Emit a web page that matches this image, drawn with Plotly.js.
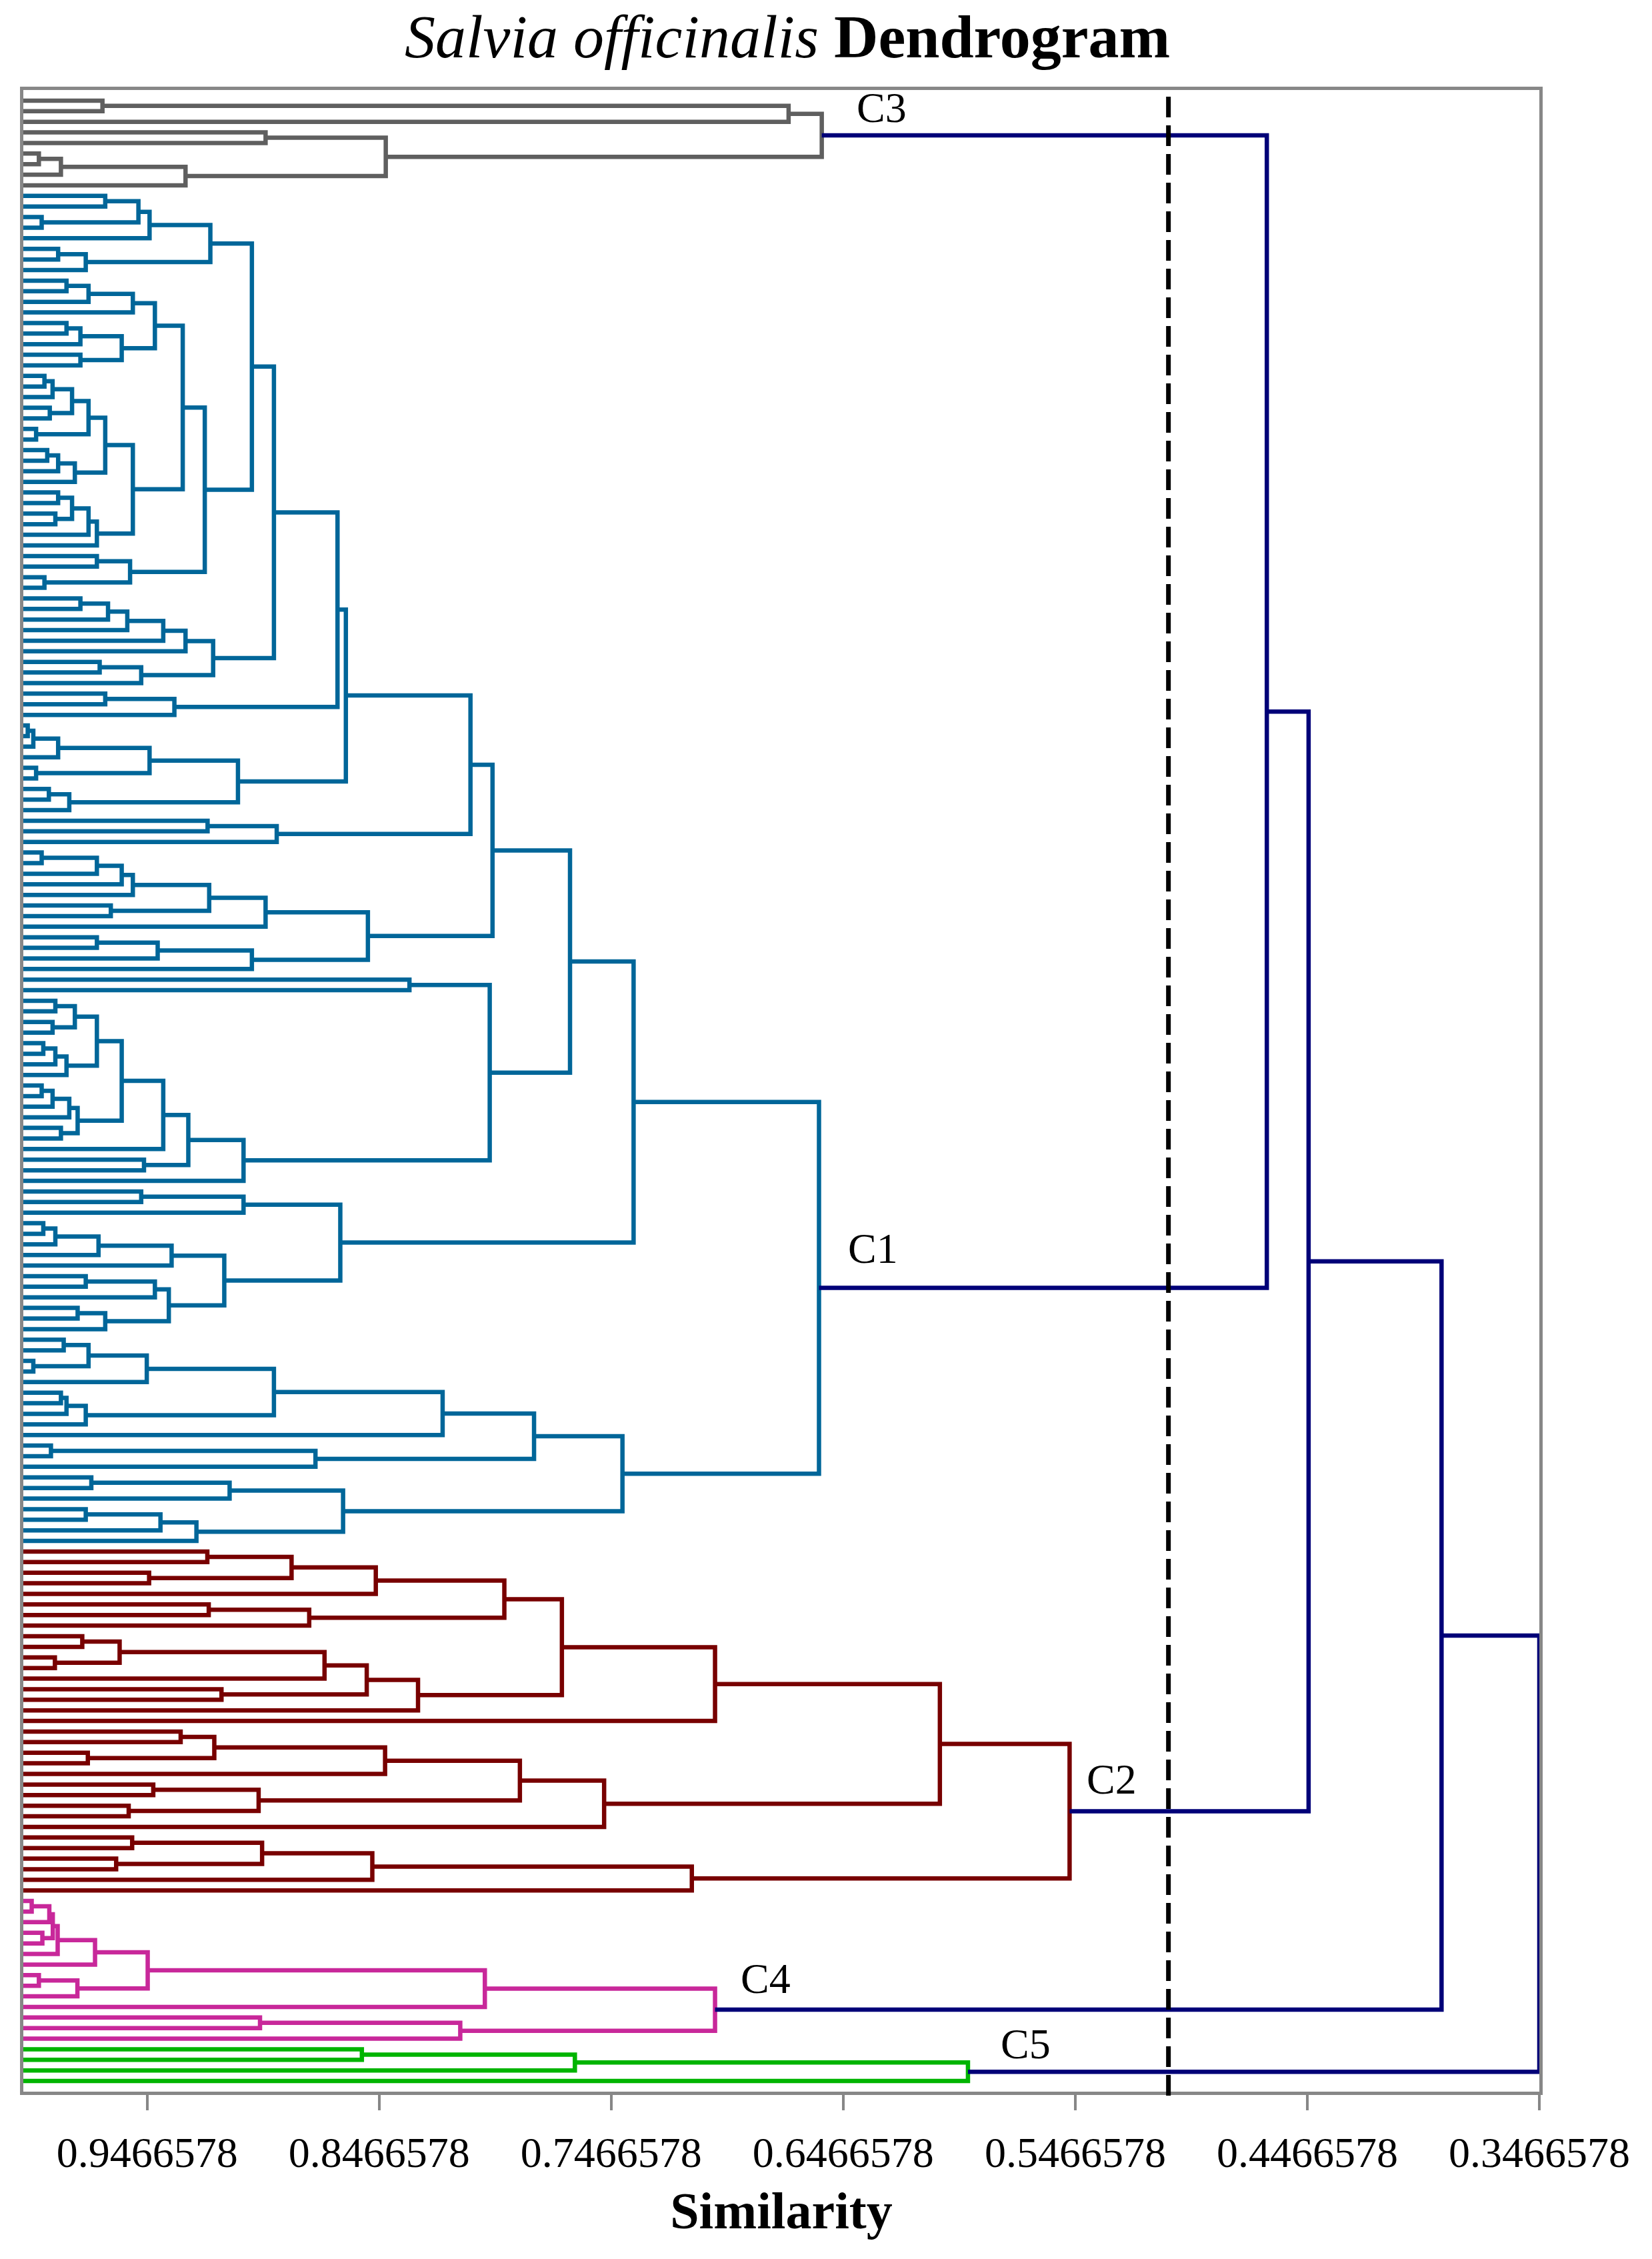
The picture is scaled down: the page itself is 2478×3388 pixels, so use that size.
<!DOCTYPE html>
<html>
<head>
<meta charset="utf-8">
<script src="https://cdn.plot.ly/plotly-3.0.1.min.js"></script>
<style>html,body{margin:0;padding:0;background:#fff;}#chart{width:2478px;height:3388px;}</style>
</head>
<body>
<div id="chart"></div>
<script>
// ---------------- DATA ----------------
// Leaves are numbered 1..188 in plotted order (top to bottom).
const leafCount = 188;
const leafSimilarity = 1.0;           // every leaf starts at similarity 1
const cutSimilarity = 0.5065;         // dashed cut line

const tickValues = [0.9466578, 0.8466578, 0.7466578, 0.6466578, 0.5466578, 0.4466578, 0.3466578];
const tickLabels = ["0.9466578", "0.8466578", "0.7466578", "0.6466578", "0.5466578", "0.4466578", "0.3466578"];

// merges: [childA, childB, similarity]; number = leaf, "mK" = K-th merge of the same cluster
const c3Merges = [
  [1,2,0.9659],["m1",3,0.6702],[4,5,0.8956],[6,7,0.9933],["m4",8,0.9838],["m5",9,0.9301],
  ["m3","m6",0.8438],["m2","m7",0.6559]
];

const c1Merges = [
  [10,11,0.9647],[12,13,0.9921],["m1","m2",0.9504],["m3",14,0.9456],[15,16,0.9850],
  ["m5",17,0.9731],["m4","m6",0.9194],[18,19,0.9814],["m8",20,0.9719],["m9",21,0.9528],
  [22,23,0.9814],["m11",24,0.9754],[25,26,0.9754],["m12","m13",0.9576],["m10","m14",0.9433],
  [27,28,0.9909],["m16",29,0.9874],[30,31,0.9886],["m17","m18",0.9790],[32,33,0.9945],
  ["m19","m20",0.9719],[34,35,0.9897],["m22",36,0.9850],["m23",37,0.9778],["m21","m24",0.9647],
  [38,39,0.9850],[40,41,0.9862],["m26","m27",0.9790],["m28",42,0.9719],["m29",43,0.9683],
  ["m25","m30",0.9528],["m15","m31",0.9313],[44,45,0.9683],[46,47,0.9909],["m33","m34",0.9540],
  ["m32","m35",0.9218],["m7","m36",0.9015],[48,49,0.9754],["m38",50,0.9635],["m39",51,0.9552],
  ["m40",52,0.9397],["m41",53,0.9301],[54,55,0.9671],["m43",56,0.9492],["m42","m44",0.9182],
  ["m37","m45",0.8920],[57,58,0.9647],["m47",59,0.9349],["m46","m48",0.8646],[60,61,0.9981],
  ["m50",62,0.9957],["m51",63,0.9850],[64,65,0.9945],["m52","m53",0.9456],[66,67,0.9890],
  ["m55",68,0.9802],["m54","m56",0.9075],["m49","m57",0.8610],[69,70,0.9206],["m59",71,0.8908],
  ["m58","m60",0.8073],[72,73,0.9921],["m62",74,0.9683],["m63",75,0.9576],["m64",76,0.9528],
  [77,78,0.9623],["m65","m66",0.9199],["m67",79,0.8956],[80,81,0.9683],["m69",82,0.9421],
  ["m70",83,0.9015],["m68","m71",0.8515],["m61","m72",0.7978],[84,85,0.8336],[86,87,0.9862],
  [88,89,0.9874],["m75","m76",0.9778],[90,91,0.9914],["m78",92,0.9862],["m79",93,0.9814],
  ["m77","m80",0.9683],[94,95,0.9921],["m82",96,0.9874],["m83",97,0.9802],[98,99,0.9838],
  ["m84","m85",0.9766],["m81","m86",0.9576],["m87",100,0.9397],[101,102,0.9480],["m88","m89",0.9289],
  ["m90",103,0.9051],["m74","m91",0.7990],["m73","m92",0.7644],[104,105,0.9492],["m94",106,0.9051],
  [107,108,0.9914],["m96",109,0.9862],["m97",110,0.9676],["m98",111,0.9361],[112,113,0.9731],
  ["m100",114,0.9433],[115,116,0.9766],["m102",117,0.9647],["m101","m103",0.9373],["m99","m104",0.9134],
  ["m95","m105",0.8634],["m93","m106",0.7370],[118,119,0.9826],[120,121,0.9957],["m108","m109",0.9719],
  ["m110",122,0.9468],[123,124,0.9838],["m112",125,0.9814],["m113",126,0.9731],["m111","m114",0.8920],
  ["m115",127,0.8193],[128,129,0.9881],["m117",130,0.8741],["m116","m118",0.7799],[131,132,0.9707],
  ["m120",133,0.9111],[134,135,0.9731],["m122",136,0.9409],["m123",137,0.9254],["m121","m124",0.8622],
  ["m119","m125",0.7418],["m107","m126",0.6571]
];

const c2Merges = [
  [138,139,0.9207],[140,141,0.9458],["m1","m2",0.8844],["m3",142,0.8481],[143,144,0.9201],
  ["m5",145,0.8768],["m4","m6",0.7927],[146,147,0.9746],[148,149,0.9864],["m8","m9",0.9585],
  ["m10",150,0.8702],[151,152,0.9146],["m11","m12",0.8520],["m13",153,0.8299],["m7","m14",0.7679],
  ["m15",154,0.7019],[155,156,0.9322],[157,158,0.9722],["m17","m18",0.9177],["m19",159,0.8441],
  [160,161,0.9440],[162,163,0.9546],["m21","m22",0.8986],["m20","m23",0.7860],["m24",164,0.7497],
  ["m16","m25",0.6050],[165,166,0.9531],[167,168,0.9600],["m27","m28",0.8971],["m29",169,0.8496],
  ["m30",170,0.7119],["m26","m31",0.5491]
];

const c4Merges = [
  [171,172,0.9964],["m1",173,0.9888],[174,175,0.9918],["m2","m3",0.9873],["m4",176,0.9852],
  ["m5",177,0.9691],[178,179,0.9933],["m7",180,0.9767],["m6","m8",0.9464],["m9",181,0.8011],
  [182,183,0.8980],["m11",184,0.8117],["m10","m12",0.7019]
];

const c5Merges = [
  [185,186,0.8541],["m1",187,0.7623],["m2",188,0.5929]
];

// top-level joins between clusters: "tK" = K-th top merge
const topMerges = [
  ["C3","C1",0.4641],["t1","C2",0.4461],["t2","C4",0.3888],["t3","C5",0.3466578]
];

const clusterNames = ["C3","C1","C2","C4","C5"];
const clusterColors = {C3:"#5f5f5f", C1:"#006699", C2:"#780000", C4:"#c8289a", C5:"#00b400", top:"#000078"};

// ---------------- BUILD ----------------
function buildTree(merges) {
  const nodes = [];
  const xs = [], ys = [];
  const ref = r => (typeof r === 'number') ? {x: leafSimilarity, y: r} : nodes[+r.slice(1) - 1];
  merges.forEach(m => {
    const a = ref(m[0]), b = ref(m[1]), h = m[2];
    xs.push(a.x, h, h, b.x, null);
    ys.push(a.y, a.y, b.y, b.y, null);
    nodes.push({x: h, y: (a.y + b.y) / 2});
  });
  return {nodes, xs, ys, root: nodes[nodes.length - 1]};
}

const clusterMerges = {C3: c3Merges, C1: c1Merges, C2: c2Merges, C4: c4Merges, C5: c5Merges};
const built = {};
clusterNames.forEach(c => { built[c] = buildTree(clusterMerges[c]); });

const topNodes = [];
const topTree = (function () {
  const xs = [], ys = [];
  const ref = r => r[0] === 't' ? topNodes[+r.slice(1) - 1] : built[r].root;
  topMerges.forEach(m => {
    const a = ref(m[0]), b = ref(m[1]), h = m[2];
    xs.push(a.x, h, h, b.x, null);
    ys.push(a.y, a.y, b.y, b.y, null);
    topNodes.push({x: h, y: (a.y + b.y) / 2});
  });
  return {xs, ys};
})();

const LW = 6.5;
const traces = clusterNames.map(c => ({
  type: 'scatter', mode: 'lines', x: built[c].xs, y: built[c].ys,
  line: {color: clusterColors[c], width: LW}, hoverinfo: 'skip', showlegend: false,
  connectgaps: false
}));
traces.push({
  type: 'scatter', mode: 'lines', x: topTree.xs, y: topTree.ys,
  line: {color: clusterColors.top, width: LW}, hoverinfo: 'skip', showlegend: false,
  cliponaxis: false
});

// label offsets (px) relative to each cluster root
const labelShift = {C3: [50, 4], C1: [42, 22], C2: [24, 10], C4: [36, 9], C5: [47, 4]};
const serif = 'Liberation Serif, Times New Roman, serif';
const annotations = clusterNames.map(c => ({
  x: built[c].root.x, y: built[c].root.y, xref: 'x', yref: 'y',
  text: c, showarrow: false, xanchor: 'left', yanchor: 'bottom',
  xshift: labelShift[c][0], yshift: labelShift[c][1],
  font: {family: serif, size: 64, color: '#000'}
}));

const frameColor = '#878787';
const layout = {
  width: 2478, height: 3388,
  paper_bgcolor: '#fff', plot_bgcolor: '#fff',
  margin: {l: 35, r: 169, t: 135, b: 251},
  title: {
    text: '<i>Salvia officinalis</i> <b>Dendrogram</b>',
    font: {family: serif, size: 92, color: '#000'},
    x: 0.504, xref: 'paper', xanchor: 'center',
    y: 0.9935, yref: 'container', yanchor: 'top'
  },
  xaxis: {
    range: [leafSimilarity, 0.3466578],
    tickmode: 'array', tickvals: tickValues, ticktext: tickLabels,
    ticks: 'outside', ticklen: 23, tickwidth: 4, tickcolor: frameColor,
    tickfont: {family: serif, size: 64, color: '#000'},
    ticklabelstandoff: 8,
    showline: true, mirror: true, linecolor: frameColor, linewidth: 5,
    showgrid: false, zeroline: false,
    title: {text: '<b>Similarity</b>', font: {family: serif, size: 78, color: '#000'}, standoff: 26}
  },
  xaxis2: {
    overlaying: 'x', anchor: 'y', side: 'bottom',
    range: [leafSimilarity, 0.3466578],
    tickmode: 'array', tickvals: tickValues,
    ticks: 'inside', ticklen: 23, tickwidth: 4, tickcolor: frameColor,
    showticklabels: false, showline: false, showgrid: false, zeroline: false
  },
  yaxis: {
    range: [leafCount + 1, 0],
    showticklabels: false, ticks: '',
    showline: true, mirror: true, linecolor: frameColor, linewidth: 5,
    showgrid: false, zeroline: false
  },
  shapes: [{
    type: 'line', xref: 'x', yref: 'paper',
    x0: cutSimilarity, x1: cutSimilarity, y0: -0.002, y1: 1,
    line: {color: '#000', width: 7, dash: '31px,12px'}
  }],
  annotations: annotations
};

Plotly.newPlot('chart', traces, layout, {staticPlot: true, displayModeBar: false});
</script>
</body>
</html>
